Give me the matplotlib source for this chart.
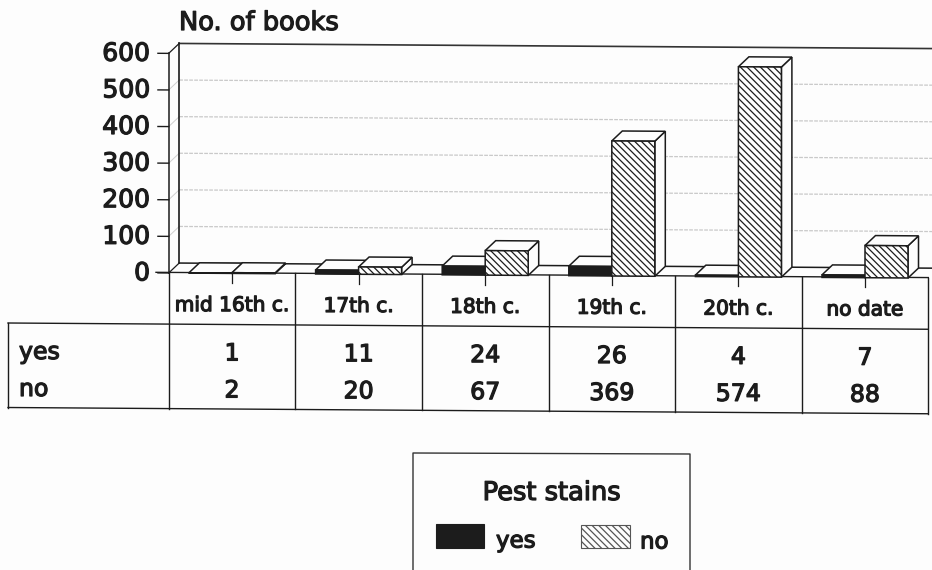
import matplotlib

matplotlib.use("Agg")
import matplotlib.pyplot as plt
import matplotlib.patheffects as pe
from matplotlib.patches import Polygon, Rectangle
from matplotlib.transforms import Affine2D

categories = ["mid 16th c.", "17th c.", "18th c.", "19th c.", "20th c.", "no date"]
yes_counts = [1, 11, 24, 26, 4, 7]
no_counts = [2, 20, 67, 369, 574, 88]
y_ticks = [0, 100, 200, 300, 400, 500, 600]

WIDTH, HEIGHT = 932, 570
INK = "#1c1c1c"
PAPER = "#fdfdfd"
HATCH = "\\\\\\\\\\"

# page geometry in pixels; the printed chart sits very slightly askew
CAT_X0 = 232.0
CAT_STEP = 126.6
FLOOR_Y0 = 273.4
PX_PER_BOOK = 0.366
SAG = 0.0068
BAR_W = 43.0 / CAT_STEP
DEPTH_X = 10.5 / CAT_STEP
DEPTH_V = 10.0 / PX_PER_BOOK

plt.rcParams["font.family"] = "DejaVu Sans"
plt.rcParams["hatch.linewidth"] = 0.9
plt.rcParams["hatch.color"] = INK

fig = plt.figure(figsize=(WIDTH / 100, HEIGHT / 100), dpi=100, facecolor=PAPER)

# frame axes work in page pixels, for the table and legend box
frame = fig.add_axes([0, 0, 1, 1])
frame.set_xlim(0, WIDTH)
frame.set_ylim(HEIGHT, 0)
frame.axis("off")

# chart axes: x is the category index, y is the number of books
ax = fig.add_axes([0, 0, 1, 1])
ax.set_xlim((0 - CAT_X0) / CAT_STEP, (WIDTH - CAT_X0) / CAT_STEP)
ax.set_ylim((FLOOR_Y0 - HEIGHT) / PX_PER_BOOK, FLOOR_Y0 / PX_PER_BOOK)
ax.axis("off")
ax.patch.set_alpha(0)

shear = Affine2D.from_values(1, -SAG * CAT_STEP / PX_PER_BOOK, 0, 1, 0, 0)
skewed = shear + ax.transData


def label(target, x, y, text, size, ha="center", stroke=0.9, **kwargs):
    t = target.text(x, y, text, fontsize=size, ha=ha, va="center", color=INK, **kwargs)
    t.set_path_effects([pe.withStroke(linewidth=stroke, foreground=INK)])
    return t


def sag(x):
    return SAG * (x - 168.0)


def box(x_left, value, face, hatch=None, zorder=3):
    """One bar: front face, then the top and right side going back."""
    x_right = x_left + BAR_W
    top = [(x_left, value), (x_left + DEPTH_X, value + DEPTH_V),
           (x_right + DEPTH_X, value + DEPTH_V), (x_right, value)]
    side = [(x_right, 0), (x_right + DEPTH_X, DEPTH_V),
            (x_right + DEPTH_X, value + DEPTH_V), (x_right, value)]
    for pts in (side, top):
        ax.add_patch(Polygon(pts, closed=True, facecolor=PAPER, edgecolor=INK,
                             linewidth=1.1, transform=skewed, zorder=zorder))
    ax.add_patch(Rectangle((x_left, 0), BAR_W, value, facecolor=face, edgecolor=INK,
                           linewidth=1.1, hatch=hatch, transform=skewed, zorder=zorder))


x_start = -0.5
x_end = (WIDTH - CAT_X0) / CAT_STEP + 0.1
back_x = x_start + DEPTH_X

# back wall with its faint gridlines
for v in y_ticks[1:-1]:
    ax.plot([back_x, x_end], [v + DEPTH_V, v + DEPTH_V], color="#c9c9c9", linewidth=0.9,
            linestyle=(0, (3, 1)), transform=skewed, zorder=1)
    ax.plot([x_start, back_x], [v, v + DEPTH_V], color="#cfcfcf", linewidth=0.7,
            transform=skewed, zorder=1)
ax.plot([back_x, x_end], [600 + DEPTH_V, 600 + DEPTH_V], color="#333333", linewidth=1.2,
        transform=skewed, zorder=1)
ax.plot([back_x, x_end], [DEPTH_V, DEPTH_V], color=INK, linewidth=1.1,
        transform=skewed, zorder=1)
ax.plot([back_x, back_x], [DEPTH_V, 600 + DEPTH_V], color=INK, linewidth=1.2,
        transform=skewed, zorder=1)
ax.plot([x_start, x_start], [0, 600], color=INK, linewidth=1.1, transform=skewed, zorder=1)
ax.plot([x_start, back_x], [600, 600 + DEPTH_V], color=INK, linewidth=0.9,
        transform=skewed, zorder=1)
ax.plot([x_start, back_x], [0, DEPTH_V], color=INK, linewidth=0.9, transform=skewed, zorder=1)

# y ticks and labels
for v in y_ticks:
    ax.plot([x_start - 0.085, x_start], [v, v], color=INK, linewidth=1.0,
            transform=skewed, zorder=2)
    label(frame, 150, FLOOR_Y0 - v * PX_PER_BOOK, str(v), 18, ha="right")

label(frame, 179, 23, "No. of books", 18.5, ha="left")

# bars, yes sits left of the category centre and no to the right
for i, (yes, no) in enumerate(zip(yes_counts, no_counts)):
    box(i - BAR_W, yes, INK, zorder=3 + i)
    box(i, no, PAPER, hatch=HATCH, zorder=3 + i)

# table, the chart floor line is its top edge
col_edges = [CAT_X0 - CAT_STEP / 2 + CAT_STEP * i for i in range(len(categories) + 1)]
left_x, right_x = 8.0, col_edges[-1]
top_y = FLOOR_Y0 - 1.0
row1_y = 323.0
row2_y = 407.5
line = dict(color=INK, linewidth=1.0, zorder=2)

frame.plot([156, right_x], [top_y + sag(156), top_y + sag(right_x)], **line)
for y in (row1_y, row2_y):
    frame.plot([left_x, right_x], [y + SAG * (left_x - 8), y + SAG * (right_x - 8)], **line)
frame.plot([left_x, left_x], [row1_y, row2_y], **line)
for x in col_edges:
    frame.plot([x, x], [top_y + sag(x), row2_y + SAG * (x - 8)], **line)

for i, name in enumerate(categories):
    cx = CAT_X0 + CAT_STEP * i
    frame.plot([cx, cx], [top_y + sag(cx), top_y + sag(cx) + 10], color=INK, linewidth=0.9)
    label(frame, cx, 305.2 + sag(cx), name, 14.5)
    label(frame, cx, 353 + sag(cx), str(yes_counts[i]), 17)
    label(frame, cx, 390 + sag(cx), str(no_counts[i]), 17)

label(frame, 19, 352, "yes", 17, ha="left")
label(frame, 19, 389, "no", 17, ha="left")

# legend box runs off the bottom of the page
frame.plot([413, 413, 690, 690], [HEIGHT, 453, 454, HEIGHT], color="#333333", linewidth=1.0)
label(frame, 552, 493, "Pest stains", 18.5)
frame.add_patch(Rectangle((436, 524), 48, 24, facecolor=INK, edgecolor=INK, linewidth=0.8))
frame.add_patch(Rectangle((581, 525), 49, 23, facecolor=PAPER, edgecolor="#555555",
                          linewidth=0.8, hatch=HATCH))
label(frame, 496, 541, "yes", 16.5, ha="left")
label(frame, 640, 542, "no", 16.5, ha="left")

fig.savefig("out.png", dpi=100, facecolor=PAPER)
